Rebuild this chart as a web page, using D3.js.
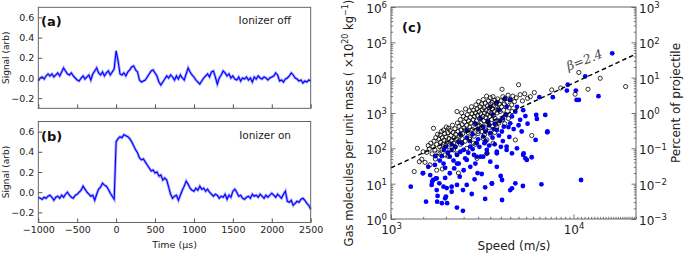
<!DOCTYPE html>
<html>
<head>
<meta charset="utf-8">
<script src="https://cdn.jsdelivr.net/npm/d3@7"></script>
<style>
  html, body { margin: 0; padding: 0; background: #fff; }
  svg { display: block; font-family: "DejaVu Sans", sans-serif; }
</style>
</head>
<body>
<svg id="chart" width="685" height="256"></svg>
<script>
// time axis of the two scope traces (µs)
const timeUs = [-1000,-975,-950,-925,-900,-875,-850,-825,-800,-775,-750,-725,-700,-675,-650,-625,-600,-575,-550,-525,-500,-475,-450,-425,-400,-375,-350,-325,-300,-275,-250,-225,-200,-175,-150,-125,-100,-75,-50,-25,0,25,50,75,100,125,150,175,200,225,250,275,300,325,350,375,400,425,450,475,500,525,550,575,600,625,650,675,700,725,750,775,800,825,850,875,900,925,950,975,1000,1025,1050,1075,1100,1125,1150,1175,1200,1225,1250,1275,1300,1325,1350,1375,1400,1425,1450,1475,1500,1525,1550,1575,1600,1625,1650,1675,1700,1725,1750,1775,1800,1825,1850,1875,1900,1925,1950,1975,2000,2025,2050,2075,2100,2125,2150,2175,2200,2225,2250,2275,2300,2325,2350,2375,2400,2425,2450,2475,2500];

const signalOff = [
  -0.03,0.00,0.01,-0.01,0.02,0.04,0.02,0.04,0.01,0.03,
  0.05,0.02,0.06,0.10,0.07,0.04,0.03,0.05,0.02,0.00,
  -0.02,-0.03,0.00,0.02,-0.01,0.01,0.03,-0.02,0.04,0.07,
  0.10,0.05,0.03,0.06,0.02,0.05,0.07,0.03,0.06,0.09,
  0.27,0.17,0.04,0.03,0.05,0.02,0.06,0.08,0.11,0.12,
  0.08,0.06,-0.02,-0.04,-0.03,-0.02,0.01,0.04,0.07,0.08,
  0.05,0.02,-0.04,-0.07,-0.04,-0.01,0.02,0.00,0.03,0.01,
  -0.02,0.02,-0.01,0.03,0.00,-0.02,0.04,0.10,0.06,0.03,
  0.01,-0.02,-0.04,-0.06,-0.03,0.00,0.02,0.04,0.01,0.06,
  0.07,0.01,-0.06,0.00,0.03,0.07,0.05,0.02,0.04,0.00,
  0.02,-0.01,-0.02,0.01,-0.03,0.00,-0.01,0.01,-0.02,0.00,
  -0.04,0.01,-0.01,0.02,0.00,-0.01,0.01,0.00,-0.02,0.00,
  0.01,0.02,0.05,0.03,-0.03,-0.02,-0.04,-0.01,0.00,0.02,
  0.05,0.03,0.00,-0.01,-0.03,-0.02,-0.05,-0.03,-0.04,-0.02,
  -0.03
];

const signalOn = [
  -0.05,-0.06,-0.07,-0.05,-0.06,-0.04,-0.03,-0.05,-0.08,-0.05,
  -0.04,-0.06,-0.03,-0.05,-0.02,0.00,-0.03,-0.05,-0.06,-0.03,
  -0.02,0.00,0.02,0.06,0.03,0.00,-0.02,-0.04,-0.03,-0.08,
  -0.02,0.03,0.05,0.09,0.07,0.06,0.03,-0.01,-0.04,-0.07,
  0.50,0.53,0.55,0.54,0.57,0.56,0.55,0.53,0.50,0.46,
  0.42,0.39,0.34,0.32,0.33,0.30,0.27,0.24,0.21,0.22,
  0.19,0.20,0.16,0.17,0.12,0.14,0.12,0.05,-0.02,-0.06,
  -0.04,-0.03,-0.08,-0.03,0.02,0.06,0.11,0.08,0.04,0.02,
  0.01,0.04,0.02,0.06,0.03,0.04,0.01,0.03,0.00,-0.02,
  -0.04,-0.02,-0.03,-0.06,-0.04,-0.05,-0.02,-0.07,-0.03,-0.05,
  0.01,0.03,0.00,-0.04,-0.03,-0.06,-0.07,-0.05,-0.04,-0.06,
  -0.02,-0.04,-0.03,-0.05,-0.02,-0.04,-0.06,-0.03,-0.05,-0.03,
  -0.01,-0.03,-0.05,-0.02,-0.04,-0.06,-0.02,0.01,-0.09,-0.10,
  -0.08,-0.13,-0.11,-0.09,-0.10,-0.07,-0.06,-0.08,-0.11,-0.13,
  -0.17
];

const signalTicks = [-0.2, 0.0, 0.2, 0.4, 0.6];
const timeTicks = [-1000, -500, 0, 500, 1000, 1500, 2000, 2500];

// panel (c): [speed m/s, molecules per unit mass x1e20 /kg]
const ionizerOff = [
  [1340,22],[1395,100],[1430,42],[1475,49],[1500,80],[1537,40],[1570,77],[1637,34],[1600,120],[1620,95],
  [1650,140],[1680,70],[1700,110],[1710,370],[1720,160],[1740,90],[1760,200],[1780,24],[1780,130],[1800,250],
  [1810,75],[1830,180],[1850,110],[1860,240],[1870,150],[1890,300],[1900,95],[1910,200],[1930,130],[1940,330],
  [1950,170],[1970,260],[1980,65],[1990,120],[2000,210],[2010,400],[2030,150],[2050,280],[2065,370],[2080,190],
  [2100,130],[2110,320],[2130,230],[2150,170],[2170,450],[2190,280],[2200,140],[2220,200],[2240,360],[2260,250],
  [2280,180],[2300,1100],[2310,520],[2330,300],[2340,155],[2340,20],[2360,420],[2380,220],[2400,650],[2420,330],
  [2440,1000],[2450,470],[2470,260],[2490,800],[2510,380],[2530,560],[2550,330],[2560,1300],[2580,700],[2600,450],
  [2620,900],[2640,280],[2660,600],[2680,1150],[2700,400],[2720,750],[2740,520],[2760,1500],[2780,950],[2800,340],
  [2820,650],[2830,140],[2840,1200],[2860,800],[2880,480],[2900,1000],[2920,1700],[2940,600],[2960,52],[2960,1300],
  [2980,850],[3000,420],[3020,2100],[3040,1100],[3060,700],[3080,1500],[3100,950],[3120,520],[3140,1800],[3160,1250],
  [3180,800],[3200,2400],[3220,600],[3240,1400],[3260,1000],[3280,1900],[3300,750],[3320,1200],[3340,3000],[3350,173],
  [3360,900],[3380,1600],[3400,550],[3420,2200],[3440,1100],[3460,1400],[3480,800],[3500,2700],[3520,1800],[3540,1000],
  [3560,650],[3580,2000],[3600,1300],[3620,2900],[3640,850],[3660,1600],[3680,1100],[3700,2300],[3720,700],[3750,1500],
  [3780,1900],[3810,1000],[3840,2500],[3870,1300],[3900,600],[3930,1800],[3960,1100],[4000,2200],[4030,1500],[4060,4700],
  [4100,2900],[4140,1200],[4180,1800],[4220,2600],[4270,900],[4320,2000],[4380,3200],[4440,1400],[4500,2400],[4580,1700],
  [4650,3000],[4750,2100],[4850,2700],[5000,6300],[5100,3300],[5250,2200],[5400,3500],[5600,2600],[5800,2900],[5900,230],
  [6100,3800],[7600,4500],[8500,5100],[10200,3400],[10700,14000],[12000,4700],[14000,9600],[19300,5600],[3250,240],[3630,140],
  [3360,72],[4800,173],[2200,90],[1910,26],[3000,300],[3800,400],[4200,500],[2700,200],
  [2100,90],[2250,110],[2400,130],[2550,160],[2700,180],[2850,220],[3000,260],[3150,300],[3300,330],[3450,380],
  [3600,420],[3750,480],[3900,520],[4100,650],[2300,70],[2600,100],[2900,130],[3200,190],[3500,250],[3700,280],
  [3050,450],[2750,330],[2450,190],[1850,70],[1750,50],[2050,60],[4400,700],[4600,1100],[3350,480],[3150,380]
];

const ionizerOn = [
  [16300,49000],[11600,10900],[9300,6300],[10300,4300],[9200,4300],[10700,2350],[10400,2350],[13700,3000],[7700,2800],[6500,2800],
  [7000,880],[6300,680],[5450,820],[4500,2350],[5300,1200],[4800,1090],[5100,640],[4500,510],[4150,410],[3800,330],
  [3500,270],[3200,215],[2950,140],[2720,112],[2500,90],[2300,65],[2100,58],[1940,37],[1740,34],[1600,30],
  [6250,880],[7200,300],[6200,173],[7180,283],[5300,65],[5450,52],[4900,100],[4300,112],[3800,80],[3350,72],
  [3100,58],[2850,65],[2550,52],[2350,37],[3200,400],[3400,600],[3600,900],[3700,500],[3900,1200],[4100,700],
  [4300,1500],[4400,400],[3300,300],[3000,350],[2800,250],[2600,200],[2900,500],[3500,1500],[3800,2000],[4200,2500],
  [3100,700],[3450,450],[3650,350],[3950,600],[4050,300],[4250,900],[4600,800],[4700,350],[4900,1500],[5000,450],
  [5200,300],[5600,500],[5900,56],[5330,72],[5550,47],[4600,72],[4300,90],[3350,90],[3000,180],[2700,160],
  [2450,140],[2250,110],[2150,90],[2050,75],[1900,60],[2400,250],[2600,320],[3600,200],[3900,230],[4100,160],
  [4450,210],[3250,140],[3700,130],[4000,110],[1500,20],[1640,17.5],[1780,14.2],[1980,14.5],[2100,19.7],[2220,27],
  [2500,24],[2720,30],[2900,37],[2300,37],[1980,28],[2600,47],[2950,58],[3200,58],[3500,42],[3800,72],
  [3800,30],[1670,9.2],[1780,6.6],[1800,4.5],[1900,2.8],[2030,2.8],[1790,3.1],[1980,3.85],[1700,12.7],[1840,10.2],
  [1940,8.2],[2020,7.5],[2150,8.2],[2150,5.9],[2300,9.2],[2380,15.8],[2480,6.6],[2600,9.2],[2770,5.1],[2870,13.3],
  [3140,18.8],[3280,7.9],[3570,10.2],[3990,16.5],[4060,12.7],[4600,7.4],[4800,10.2],[1283,8.2],[1556,3.1],[1493,19.7],
  [2297,2.1],[2478,1.7],[11000,12.7],[6670,9.6],[4060,3.45],[3280,3.7],[4500,6.6],[5280,8.6],[1750,60],[1850,45],
  [2000,110],[2200,45],[2400,80],[2650,75],[2800,95],[3050,110],[3300,160],[3450,120],[2350,150],[2150,130],
  [1950,90],[1680,11.4],[1760,14],[2000,4.3],[2980,20],[3570,10]
];

// beta = 2.4 fit, end points
const fitLine = [[1000, 28], [22000, 46700]];

const speedTicks = [1e3, 1e4];
const massTicks = [1, 10, 100, 1e3, 1e4, 1e5, 1e6];
const percentTicks = [1e-3, 1e-2, 1e-1, 1, 10, 100, 1000];

const svg = d3.select("#chart");
const frame = "#555";
const ink = "#222";

// ---------- panels (a) and (b) ----------
const xT = d3.scaleLinear().domain([-1000, 2500]).range([38.3, 310.7]);

function tracePanel(values, top, letter, note, showX) {
  const y = d3.scaleLinear().domain([-0.3, 0.7]).range([top + 101, top]);
  const g = svg.append("g");
  const data = timeUs.map((t, i) => [t, values[i]]);
  const line = d3.line().x((d) => xT(d[0])).y((d) => y(d[1]));

  g.append("path").datum(data).attr("d", line)
    .attr("fill", "none").attr("stroke", "#6a6aff").attr("stroke-width", 2.8).attr("stroke-opacity", 0.6);
  g.append("path").datum(data).attr("d", line)
    .attr("fill", "none").attr("stroke", "#0000ff").attr("stroke-width", 1.1);

  const ax = g.append("g").attr("transform", `translate(${xT.range()[0]},0)`)
    .call(d3.axisLeft(y).tickValues(signalTicks).tickSize(-4).tickPadding(4)
      .tickFormat((d) => d3.format(".1f")(d).replace("-", "\u2212")));
  const bx = g.append("g").attr("transform", `translate(0,${top + 101})`)
    .call(d3.axisBottom(xT).tickValues(timeTicks).tickSize(-4).tickPadding(4)
      .tickFormat((d) => (showX ? String(d).replace("-", "\u2212") : "")));
  [ax, bx].forEach((a) => {
    a.select(".domain").remove();
    a.selectAll(".tick line").attr("stroke", frame);
    a.selectAll(".tick text").attr("fill", ink).attr("font-size", 9.5).attr("font-family", "DejaVu Sans");
  });

  g.append("rect").attr("x", xT.range()[0]).attr("y", top)
    .attr("width", xT.range()[1] - xT.range()[0]).attr("height", 101)
    .attr("fill", "none").attr("stroke", frame).attr("stroke-width", 0.9);

  g.append("text").attr("x", 41).attr("y", top + 19).attr("font-size", 13).attr("font-weight", "bold")
    .attr("fill", "#111").text(letter);
  g.append("text").attr("x", 291).attr("y", top + 17).attr("text-anchor", "end").attr("font-size", 10.5)
    .attr("fill", ink).text(note);
  g.append("text").attr("transform", `translate(9,${top + 50.5}) rotate(-90)`).attr("text-anchor", "middle")
    .attr("font-size", 9).attr("fill", ink).text("Signal (arb)");
}

tracePanel(signalOff, 7.3, "(a)", "Ionizer off", false);
tracePanel(signalOn, 121.5, "(b)", "Ionizer on", true);

svg.append("text").attr("x", 174.5).attr("y", 248).attr("text-anchor", "middle")
  .attr("font-size", 9.5).attr("fill", ink).text("Time (\u03bcs)");

// ---------- panel (c) ----------
const xS = d3.scaleLog().domain([1000, 22000]).range([391, 636]);
const yM = d3.scaleLog().domain([1, 1e6]).range([219, 7]);
const yP = d3.scaleLog().domain([1e-3, 1e3]).range([219, 7]);

function minorTicks(scale) {
  const [a, b] = scale.domain();
  return scale.ticks(40).filter((v) => {
    const e = Math.log10(v);
    return Math.abs(e - Math.round(e)) > 1e-6 && v >= a && v <= b;
  });
}

function supLabels(sel) {
  sel.selectAll(".tick text").each(function (d) {
    const t = d3.select(this);
    const e = Math.round(Math.log10(d));
    t.text(null).attr("font-size", 12).attr("fill", ink).attr("font-family", "DejaVu Sans");
    t.append("tspan").text("10");
    t.append("tspan").attr("dy", -4.5).attr("font-size", 8.5).text(String(e).replace("-", "\u2212"));
  });
}

const c = svg.append("g");

const leftAx = c.append("g").attr("transform", "translate(391,0)")
  .call(d3.axisLeft(yM).tickValues(massTicks).tickSize(-4.5).tickPadding(4).tickFormat(() => ""));
const leftMinor = c.append("g").attr("transform", "translate(391,0)")
  .call(d3.axisLeft(yM).tickValues(minorTicks(yM)).tickSize(-2.2).tickFormat(() => ""));
const rightAx = c.append("g").attr("transform", "translate(636,0)")
  .call(d3.axisRight(yP).tickValues(percentTicks).tickSize(-4.5).tickPadding(3).tickFormat(() => ""));
const rightMinor = c.append("g").attr("transform", "translate(636,0)")
  .call(d3.axisRight(yP).tickValues(minorTicks(yP)).tickSize(-2.2).tickFormat(() => ""));
const bottomAx = c.append("g").attr("transform", "translate(0,219)")
  .call(d3.axisBottom(xS).tickValues(speedTicks).tickSize(-4.5).tickPadding(4).tickFormat(() => ""));
const bottomMinor = c.append("g").attr("transform", "translate(0,219)")
  .call(d3.axisBottom(xS).tickValues(minorTicks(xS)).tickSize(-2.2).tickFormat(() => ""));

[leftAx, leftMinor, rightAx, rightMinor, bottomAx, bottomMinor].forEach((a) => {
  a.select(".domain").remove();
  a.selectAll(".tick line").attr("stroke", frame).attr("stroke-width", 0.8);
});
[leftAx, rightAx, bottomAx].forEach(supLabels);
leftAx.selectAll(".tick text").attr("dy", "0.45em");
rightAx.selectAll(".tick text").attr("dy", "0.45em");
bottomAx.selectAll(".tick text").attr("dy", "0.9em");

// blue: ionizer on (filled)
c.append("g").selectAll("circle").data(ionizerOn).enter().append("circle")
  .attr("cx", (d) => xS(d[0])).attr("cy", (d) => yM(d[1])).attr("r", 2.4)
  .attr("fill", "#0000ff");

// black open circles: ionizer off
c.append("g").selectAll("circle").data(ionizerOff).enter().append("circle")
  .attr("cx", (d) => xS(d[0])).attr("cy", (d) => yM(d[1])).attr("r", 2.1)
  .attr("fill", "none").attr("stroke", "#000").attr("stroke-width", 0.8);

c.append("path").datum(fitLine)
  .attr("d", d3.line().x((d) => xS(d[0])).y((d) => yM(d[1])))
  .attr("fill", "none").attr("stroke", "#000").attr("stroke-width", 1.4).attr("stroke-dasharray", "4.5,3");

c.append("text").attr("transform", "translate(586,64) rotate(-21)").attr("text-anchor", "middle")
  .attr("font-family", "DejaVu Serif").attr("font-style", "italic").attr("font-size", 12.5)
  .attr("fill", "#444").text("\u03b2=2.4");

c.append("rect").attr("x", 391).attr("y", 7).attr("width", 245).attr("height", 212)
  .attr("fill", "none").attr("stroke", frame).attr("stroke-width", 0.9);

c.append("text").attr("x", 402).attr("y", 32).attr("font-size", 13).attr("font-weight", "bold")
  .attr("fill", "#111").text("(c)");

c.append("text").attr("x", 514).attr("y", 250).attr("text-anchor", "middle")
  .attr("font-size", 12).attr("fill", ink).text("Speed (m/s)");

const yl = c.append("text").attr("transform", "translate(353,123) rotate(-90)").attr("text-anchor", "middle")
  .attr("font-size", 11.5).attr("fill", ink);
yl.append("tspan").text("Gas molecules per unit mass ( \u00d710");
yl.append("tspan").attr("dy", -5).attr("font-size", 8).text("20");
yl.append("tspan").attr("dy", 5).text(" kg");
yl.append("tspan").attr("dy", -5).attr("font-size", 8).text("\u22121");
yl.append("tspan").attr("dy", 5).text(")");

c.append("text").attr("transform", "translate(680,103) rotate(-90)").attr("text-anchor", "middle")
  .attr("font-size", 12).attr("fill", ink).text("Percent of projectile");
</script>
</body>
</html>
